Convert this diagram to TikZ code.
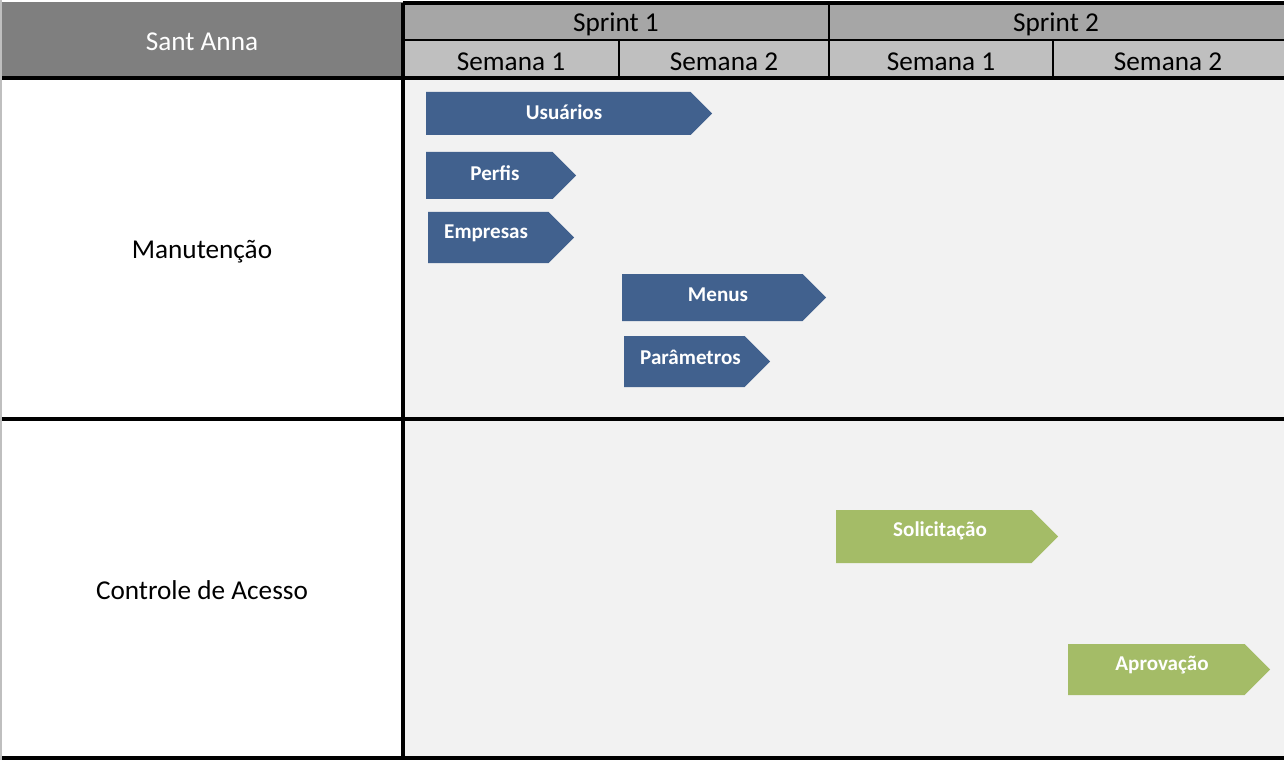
\documentclass[tikz,border=0pt]{standalone}
\usepackage{fontspec}
\setmainfont{Carlito}
\definecolor{headdark}{HTML}{7F7F7F}
\definecolor{headmid}{HTML}{A6A6A6}
\definecolor{headlight}{HTML}{BFBFBF}
\definecolor{bodygray}{HTML}{F2F2F2}
\definecolor{taskblue}{HTML}{41618E}
\definecolor{taskgreen}{HTML}{A4BC67}
% bar with a pointed end: x1, x2, y1, y2, colour
\newcommand{\taskbar}[5]{\fill[#5] (#1,#3) -- ({#2-(#4-#3)/2},#3) -- (#2,{(#3+#4)/2}) -- ({#2-(#4-#3)/2},#4) -- (#1,#4) -- cycle;}
\begin{document}
\begin{tikzpicture}[x=0.02cm, y=-0.02cm,
    hdr/.style={font=\fontsize{15.5}{18}\selectfont},
    lbl/.style={text=white, font=\fontsize{12}{14}\selectfont\bfseries},
    heavy/.style={line width=2pt},
    light/.style={line width=1.2pt}]
    \useasboundingbox (0,0) rectangle (1284,760);
    % backgrounds
    \fill[white] (0,0) rectangle (1284,760);
    \fill[headdark] (2,2) rectangle (403,78);
    \fill[headmid] (403,3) rectangle (1284,40);
    \fill[headlight] (403,40) rectangle (1284,78);
    \fill[bodygray] (403,78) rectangle (1284,758);
    \draw[headlight, line width=1.1pt] (1,0) -- (1,760);
    % grid
    \draw[heavy] (403,3) -- (1284,3);
    \draw[heavy] (2,78) -- (1284,78);
    \draw[heavy] (2,419) -- (1284,419);
    \draw[heavy] (2,758) -- (1284,758);
    \draw[heavy] (403,3) -- (403,760);
    \draw[light] (403,40) -- (1284,40);
    \draw[light] (829,3) -- (829,78);
    \draw[light] (619,40) -- (619,78);
    \draw[light] (1053,40) -- (1053,78);
    % header texts
    \node[hdr, text=white] (sant) at (202,42) {Sant Anna};
    \node[hdr] (sp1) at (616,24) {Sprint 1};
    \node[hdr] (sp2) at (1056,24) {Sprint 2};
    \node[hdr] (s11) at (511,62) {Semana 1};
    \node[hdr] (s12) at (724,62) {Semana 2};
    \node[hdr] (s21) at (941,62) {Semana 1};
    \node[hdr] (s22) at (1168,62) {Semana 2};
    \node[hdr] (man) at (202,252) {Manutenção};
    \node[hdr] (ctl) at (202,590) {Controle de Acesso};
    % tasks
    \taskbar{426}{712}{92}{135}{taskblue}
    \taskbar{426}{576}{152}{199}{taskblue}
    \taskbar{428}{574}{212}{263}{taskblue}
    \taskbar{622}{826}{274}{321}{taskblue}
    \taskbar{624}{770}{336}{387}{taskblue}
    \taskbar{836}{1058}{510}{563}{taskgreen}
    \taskbar{1068}{1270}{644}{695}{taskgreen}
    \node[lbl] (usr) at (564,112) {Usuários};
    \node[lbl] (prf) at (495,173) {Perfis};
    \node[lbl, anchor=west] (emp) at (438,233) {Empresas};
    \node[lbl] (mnu) at (718,295) {Menus};
    \node[lbl, anchor=west] (par) at (634,357) {Parâmetros};
    \node[lbl] (sol) at (940,531) {Solicitação};
    \node[lbl] (apr) at (1162,665) {Aprovação};
\end{tikzpicture}
\end{document}
